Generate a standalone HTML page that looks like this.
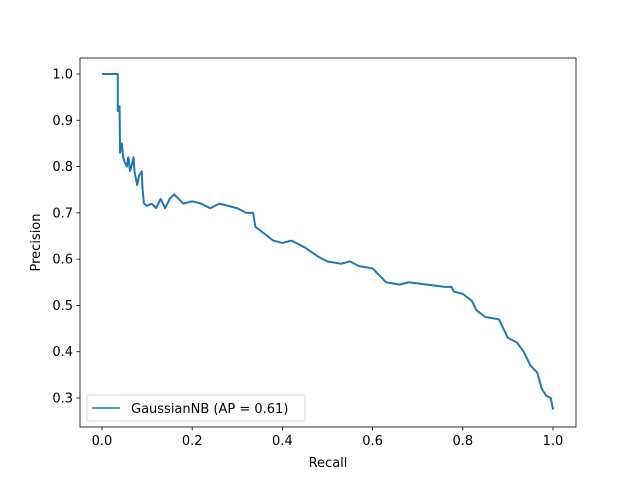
<!DOCTYPE html>
<html><head><meta charset="utf-8"><style>
body{margin:0;background:#fff;width:640px;height:480px;overflow:hidden}
text{font-family:"DejaVu Sans","Liberation Sans",sans-serif;font-size:13px;fill:#000}
</style></head><body>
<svg id="chart" width="640" height="480" viewBox="0 0 640 480">
<rect width="640" height="480" fill="#fff"/>
<g id="ticks"></g>
<path id="curve" fill="none" stroke="#1f77b4" stroke-width="2" stroke-linejoin="round"/>
<rect x="80" y="58" width="496" height="369" fill="none" stroke="#000" stroke-width="0.8"/>
<text x="328" y="467" text-anchor="middle">Recall</text>
<text transform="translate(40,242.5) rotate(-90)" text-anchor="middle">Precision</text>
<g>
<rect x="87" y="395" width="218" height="26" rx="2" fill="#fff" fill-opacity="0.8" stroke="#ccc" stroke-width="0.8"/>
<line x1="92" y1="408" x2="120" y2="408" stroke="#1f77b4" stroke-width="1.5"/>
<text x="131" y="413">GaussianNB (AP = 0.61)</text>
</g>
</svg>
<script>
const recall=[0,0.035,0.035,0.037,0.039,0.04,0.044,0.047,0.05,0.055,0.058,0.06,0.062,0.065,0.07,0.072,0.078,0.082,0.088,0.09,0.093,0.1,0.11,0.12,0.13,0.14,0.15,0.16,0.18,0.2,0.22,0.24,0.26,0.3,0.32,0.335,0.34,0.36,0.38,0.4,0.42,0.45,0.48,0.5,0.53,0.55,0.57,0.6,0.61,0.63,0.66,0.68,0.72,0.76,0.775,0.78,0.8,0.82,0.83,0.85,0.88,0.89,0.9,0.92,0.935,0.95,0.965,0.975,0.985,0.995,1.0];
const precision=[1.0,1.0,0.92,0.93,0.93,0.83,0.85,0.82,0.81,0.80,0.82,0.81,0.79,0.80,0.82,0.79,0.76,0.78,0.79,0.75,0.72,0.715,0.72,0.71,0.73,0.71,0.73,0.74,0.72,0.725,0.72,0.71,0.72,0.71,0.70,0.70,0.67,0.655,0.64,0.635,0.64,0.625,0.605,0.595,0.59,0.595,0.585,0.58,0.57,0.55,0.545,0.55,0.545,0.54,0.54,0.53,0.525,0.51,0.49,0.475,0.47,0.45,0.43,0.42,0.40,0.37,0.355,0.32,0.305,0.30,0.275];
const xTicks=[0,0.2,0.4,0.6,0.8,1.0];
const yTicks=[0.3,0.4,0.5,0.6,0.7,0.8,0.9,1.0];
const X=v=>102+v*451;
const Y=v=>398-(v-0.3)/0.7*324;
let d=`M${X(recall[0])},${Y(precision[0])}`;
for(let i=1;i<recall.length;i++){d+=` L${X(recall[i])},${Y(precision[i])}`;}
document.getElementById('curve').setAttribute('d',d);
const g=document.getElementById('ticks');const ns='http://www.w3.org/2000/svg';
xTicks.forEach(t=>{const l=document.createElementNS(ns,'line');


l.setAttribute('x1',X(t));l.setAttribute('x2',X(t));l.setAttribute('y1',427);l.setAttribute('y2',430.5);l.setAttribute('stroke','#000');l.setAttribute('stroke-width','0.8');g.appendChild(l);
const tx=document.createElementNS(ns,'text');


tx.setAttribute('x',X(t));tx.setAttribute('y',445);tx.setAttribute('text-anchor','middle');tx.textContent=t.toFixed(1);g.appendChild(tx);});
yTicks.forEach(t=>{const l=document.createElementNS(ns,'line');


l.setAttribute('x1',76.5);l.setAttribute('x2',80);l.setAttribute('y1',Y(t));l.setAttribute('y2',Y(t));l.setAttribute('stroke','#000');l.setAttribute('stroke-width','0.8');g.appendChild(l);
const tx=document.createElementNS(ns,'text');


tx.setAttribute('x',73);tx.setAttribute('y',Y(t)+4.5);tx.setAttribute('text-anchor','end');tx.textContent=t.toFixed(1);g.appendChild(tx);});
</script>
</body></html>
